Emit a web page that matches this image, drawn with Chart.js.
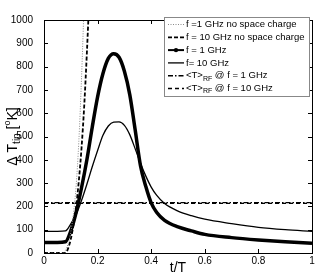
<!DOCTYPE html>
<html>
<head>
<meta charset="utf-8">
<script src="https://cdn.jsdelivr.net/npm/chart.js@4.4.0/dist/chart.umd.min.js"></script>
<style>
  html, body { margin: 0; padding: 0; background: #fff; }
  #wrap { width: 332px; height: 273px; }
</style>
</head>
<body>
<div id="wrap"><canvas id="cv" width="332" height="273"></canvas></div>
<script>
// t/T samples for the space charge curves
var tSC = [0, 0.05, 0.08, 0.10, 0.12, 0.14, 0.16, 0.18, 0.20, 0.22, 0.24, 0.26, 0.28, 0.30, 0.32, 0.34, 0.36, 0.38, 0.40, 0.42, 0.45, 0.50, 0.55, 0.60, 0.70, 0.80, 0.90, 1.00];
var f1GHz  = [45, 45, 48, 95, 175, 280, 400, 540, 670, 770, 835, 855, 840, 780, 680, 530, 375, 285, 215, 175, 140, 112, 95, 80, 66, 56, 48, 42];
var f10GHz = [93, 93, 95, 125, 165, 225, 295, 370, 440, 505, 545, 562, 563, 548, 508, 448, 385, 330, 283, 248, 212, 180, 160, 145, 126, 110, 100, 93];

// no space charge curves (they leave the axes at 1000)
var tNoSC1 = [0, 0.07, 0.09, 0.10, 0.11, 0.12, 0.13, 0.14, 0.15];
var noSC1  = [0, 0, 40, 90, 170, 290, 480, 750, 1080];
var tNoSC10 = [0, 0.08, 0.09, 0.10, 0.11, 0.12, 0.13, 0.14, 0.15, 0.16, 0.17];
var noSC10  = [0, 0, 20, 60, 120, 200, 310, 450, 630, 860, 1120];

// time averaged values
var tAvg = [0, 1];
var avg1GHz  = [216, 216];
var avg10GHz = [213, 213];

var xTicks = [0, 0.2, 0.4, 0.6, 0.8, 1];
var yTicks = [0, 100, 200, 300, 400, 500, 600, 700, 800, 900, 1000];

var legendLabels = [
    ["f =1 GHz no space charge"],
    ["f = 10 GHz no space charge"],
    ["f = 1 GHz"],
    ["f= 10 GHz"],
    ["<T>", "RF", " @ f = 1 GHz"],
    ["<T>", "RF", " @ f = 10 GHz"]
];

function pts(xs, ys){
    var out = [];
    for(let i = 0; i < xs.length; i++){
        out.push({x: xs[i], y: ys[i]});
    }
    return out;
}

var FONT = '"Liberation Sans", Arial, sans-serif';

var styles = [
    {color: '#8a8a8a', width: 1, dash: [1, 1.5]},
    {color: '#000', width: 1.8, dash: [4, 2]},
    {color: '#000', width: 3.5, dash: [], marker: true},
    {color: '#000', width: 1.3, dash: []},
    {color: '#000', width: 1.4, dash: [5, 2, 1.5, 2]},
    {color: '#000', width: 1.4, dash: [4, 3]}
];

var sets = [
    pts(tNoSC1, noSC1),
    pts(tNoSC10, noSC10),
    pts(tSC, f1GHz),
    pts(tSC, f10GHz),
    pts(tAvg, avg1GHz),
    pts(tAvg, avg10GHz)
];

var datasets = [];
for(let i = 0; i < sets.length; i++){
    datasets.push({
        label: legendLabels[i].join(''),
        data: sets[i],
        borderColor: styles[i].color,
        borderWidth: styles[i].width,
        borderDash: styles[i].dash,
        pointRadius: 0,
        fill: false,
        cubicInterpolationMode: 'monotone',
        clip: 0
    });
}

// frame, inward ticks, y title and legend, MATLAB style
var matlabBits = {
    id: 'matlabBits',
    afterDraw(chart){
        var ctx = chart.ctx, a = chart.chartArea;
        var xs = chart.scales.x, ys = chart.scales.y;
        ctx.save();
        ctx.strokeStyle = '#000';
        ctx.lineWidth = 1;
        ctx.setLineDash([]);
        ctx.strokeRect(Math.round(a.left) + 0.5, Math.round(a.top) + 0.5,
                       Math.round(a.right - a.left), Math.round(a.bottom - a.top));
        ctx.beginPath();
        xTicks.forEach(v => {
            var px = Math.round(xs.getPixelForValue(v)) + 0.5;
            ctx.moveTo(px, a.bottom); ctx.lineTo(px, a.bottom - 4);
            ctx.moveTo(px, a.top); ctx.lineTo(px, a.top + 4);
        });
        yTicks.forEach(v => {
            var py = Math.round(ys.getPixelForValue(v)) + 0.5;
            ctx.moveTo(a.left, py); ctx.lineTo(a.left + 4, py);
            ctx.moveTo(a.right, py); ctx.lineTo(a.right - 4, py);
        });
        ctx.stroke();

        // y axis title
        ctx.fillStyle = '#000';
        ctx.translate(13, (a.top + a.bottom) / 2);
        ctx.rotate(-Math.PI / 2);
        var parts = [["\u0394 T", 14, 0], ["tip", 10, 4], [" [", 14, 0], ["o", 9, -5], ["K]", 14, 0]];
        var total = 0;
        parts.forEach(p => { ctx.font = p[1] + 'px ' + FONT; total += ctx.measureText(p[0]).width; });
        var x = -total / 2;
        ctx.textBaseline = 'middle';
        parts.forEach(p => {
            ctx.font = p[1] + 'px ' + FONT;
            ctx.fillText(p[0], x, p[2]);
            x += ctx.measureText(p[0]).width;
        });
        ctx.restore();

        // legend box
        ctx.save();
        var lx = 164, ly = Math.round(a.top) - 3, lw = Math.round(a.right) - 3 - lx, rowH = 12.8;
        var lh = 79;
        ctx.fillStyle = '#fff';
        ctx.fillRect(lx, ly, lw, lh);
        ctx.strokeStyle = '#888';
        ctx.lineWidth = 1;
        ctx.strokeRect(lx + 0.5, ly + 0.5, lw, lh);
        for(let i = 0; i < legendLabels.length; i++){
            var cy = ly + 7.5 + i * rowH;
            var st = styles[i];
            ctx.strokeStyle = st.color;
            ctx.lineWidth = Math.min(st.width, 2);
            ctx.setLineDash(st.dash);
            ctx.beginPath();
            ctx.moveTo(lx + 4, cy); ctx.lineTo(lx + 20, cy);
            ctx.stroke();
            ctx.setLineDash([]);
            if(st.marker){
                ctx.fillStyle = '#000';
                ctx.beginPath();
                ctx.arc(lx + 12, cy, 2.2, 0, Math.PI * 2);
                ctx.fill();
            }
            ctx.fillStyle = '#000';
            ctx.textBaseline = 'middle';
            var tx = lx + 22;
            var lab = legendLabels[i];
            ctx.font = '9.5px ' + FONT;
            ctx.fillText(lab[0], tx, cy);
            if(lab.length > 1){
                tx += ctx.measureText(lab[0]).width;
                ctx.font = '7px ' + FONT;
                ctx.fillText(lab[1], tx, cy + 3);
                tx += ctx.measureText(lab[1]).width;
                ctx.font = '9.5px ' + FONT;
                ctx.fillText(lab[2], tx, cy);
            }
        }
        ctx.restore();
    }
};

new Chart(document.getElementById('cv'), {
    type: 'line',
    data: { datasets: datasets },
    options: {
        responsive: false,
        animation: false,
        layout: { padding: { top: 20, right: 20, bottom: 0, left: 0 } },
        plugins: {
            legend: { display: false },
            tooltip: { enabled: false }
        },
        scales: {
            x: {
                type: 'linear',
                min: 0, max: 1,
                grid: { display: false, drawTicks: false },
                border: { display: false },
                afterFit: s => { s.height = 20; },
                afterBuildTicks: s => { s.ticks = xTicks.map(v => ({value: v})); },
                ticks: {
                    color: '#000',
                    font: { family: FONT, size: 10 },
                    padding: 2,
                    maxRotation: 0,
                    callback: v => String(v)
                },
                title: {
                    display: true,
                    text: 't/T',
                    color: '#000',
                    font: { family: FONT, size: 14, lineHeight: 1 },
                    padding: { top: 0, bottom: -2 }
                }
            },
            y: {
                type: 'linear',
                min: 0, max: 1000,
                grid: { display: false },
                border: { display: false },
                afterFit: s => { s.width = 44; },
                afterBuildTicks: s => { s.ticks = yTicks.map(v => ({value: v})); },
                ticks: {
                    color: '#000',
                    font: { family: FONT, size: 10 },
                    padding: 3,
                    callback: v => String(v)
                }
            }
        }
    },
    plugins: [matlabBits]
});
</script>
</body>
</html>
